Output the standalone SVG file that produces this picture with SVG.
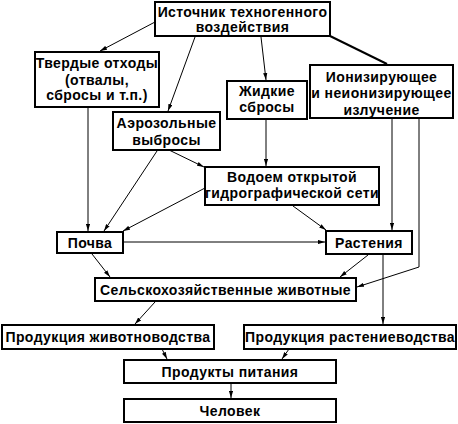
<svg xmlns="http://www.w3.org/2000/svg" width="458" height="424" viewBox="0 0 458 424">
<defs>
<marker id="ah" viewBox="0 0 10 6" refX="10" refY="3" markerWidth="7" markerHeight="4.5" markerUnits="userSpaceOnUse" orient="auto">
<path d="M0,0 L10,3 L0,6 Z" fill="#000"/>
</marker>
<style>
.box rect{fill:#fff;stroke:#000;stroke-width:2}
text{font-family:"Liberation Sans",Arial,sans-serif;font-weight:bold;font-size:14px;letter-spacing:0.4px;text-anchor:middle;fill:#000}
.c line,.c polyline{stroke:#000;stroke-width:1;fill:none}
.c .a{marker-end:url(#ah)}
.c .thick{stroke-width:2}
</style>
</defs>
<rect width="458" height="424" fill="#fff"/>
<g class="c" id="connectors">
<line class="a" x1="155" y1="22" x2="100" y2="51"/>
<line class="a" x1="195" y1="37" x2="168" y2="111"/>
<line class="a" x1="261" y1="37" x2="266" y2="80"/>
<line class="thick" x1="330" y1="36" x2="387" y2="64"/>
<line class="a" x1="88" y1="107" x2="88" y2="231"/>
<line class="a" x1="157" y1="151" x2="104" y2="231"/>
<line class="a" x1="169" y1="150" x2="204" y2="167"/>
<line class="a" x1="266" y1="119" x2="266" y2="166"/>
<line class="a" x1="205" y1="188" x2="123" y2="231"/>
<line class="a" x1="293" y1="206" x2="326" y2="230"/>
<line class="a" x1="123" y1="242" x2="325" y2="242"/>
<line class="a" x1="392" y1="118" x2="392" y2="230"/>
<polyline class="a" points="419,118 419,267 357,287"/>
<line class="a" x1="92" y1="254" x2="110" y2="277"/>
<line class="a" x1="368" y1="255" x2="340" y2="277"/>
<line class="a" x1="383" y1="254" x2="383" y2="324"/>
<line class="a" x1="155" y1="302" x2="135" y2="324"/>
<line class="a" x1="162" y1="349" x2="167" y2="359"/>
<line class="a" x1="289" y1="349" x2="282" y2="359"/>
<line class="a" x1="231" y1="383" x2="231" y2="398"/>
</g>
<g class="box" id="source">
<rect x="155" y="2" width="175" height="34"/>
<text x="242.5" y="17">Источник техногенного</text>
<text x="242.5" y="32">воздействия</text>
</g>
<g class="box" id="solid">
<rect x="35" y="52" width="124" height="55"/>
<text x="97" y="68">Твердые отходы</text>
<text x="97" y="84.5">(отвалы,</text>
<text x="97" y="100">сбросы и т.п.)</text>
</g>
<g class="box" id="aerosol">
<rect x="113" y="112" width="107" height="38"/>
<text x="166.5" y="128">Аэрозольные</text>
<text x="166.5" y="144.5">выбросы</text>
</g>
<g class="box" id="liquid">
<rect x="227" y="81" width="80" height="38"/>
<text x="267" y="96">Жидкие</text>
<text x="267" y="112">сбросы</text>
</g>
<g class="box" id="radiation">
<rect x="310" y="65" width="143" height="53"/>
<text x="381.5" y="82">Ионизирующее</text>
<text x="381.5" y="98">и неионизирующее</text>
<text x="381.5" y="114.5">излучение</text>
</g>
<g class="box" id="water">
<rect x="205" y="167" width="174" height="38"/>
<text x="292" y="182">Водоем открытой</text>
<text x="292" y="198">гидрографической сети</text>
</g>
<g class="box" id="soil">
<rect x="57" y="232" width="66" height="21"/>
<text x="90" y="248">Почва</text>
</g>
<g class="box" id="plants">
<rect x="326" y="231" width="86" height="23"/>
<text x="369" y="247.5">Растения</text>
</g>
<g class="box" id="animals">
<rect x="95" y="278" width="261" height="23"/>
<text x="225.5" y="294.5">Сельскохозяйственные животные</text>
</g>
<g class="box" id="animalprod">
<rect x="2" y="325" width="212" height="24"/>
<text x="108" y="342">Продукция животноводства</text>
</g>
<g class="box" id="plantprod">
<rect x="244" y="325" width="212" height="24"/>
<text x="350" y="342">Продукция растениеводства</text>
</g>
<g class="box" id="food">
<rect x="124" y="360" width="212" height="23"/>
<text x="230" y="376.5">Продукты питания</text>
</g>
<g class="box" id="human">
<rect x="124" y="399" width="212" height="23"/>
<text x="230" y="416">Человек</text>
</g>
</svg>
